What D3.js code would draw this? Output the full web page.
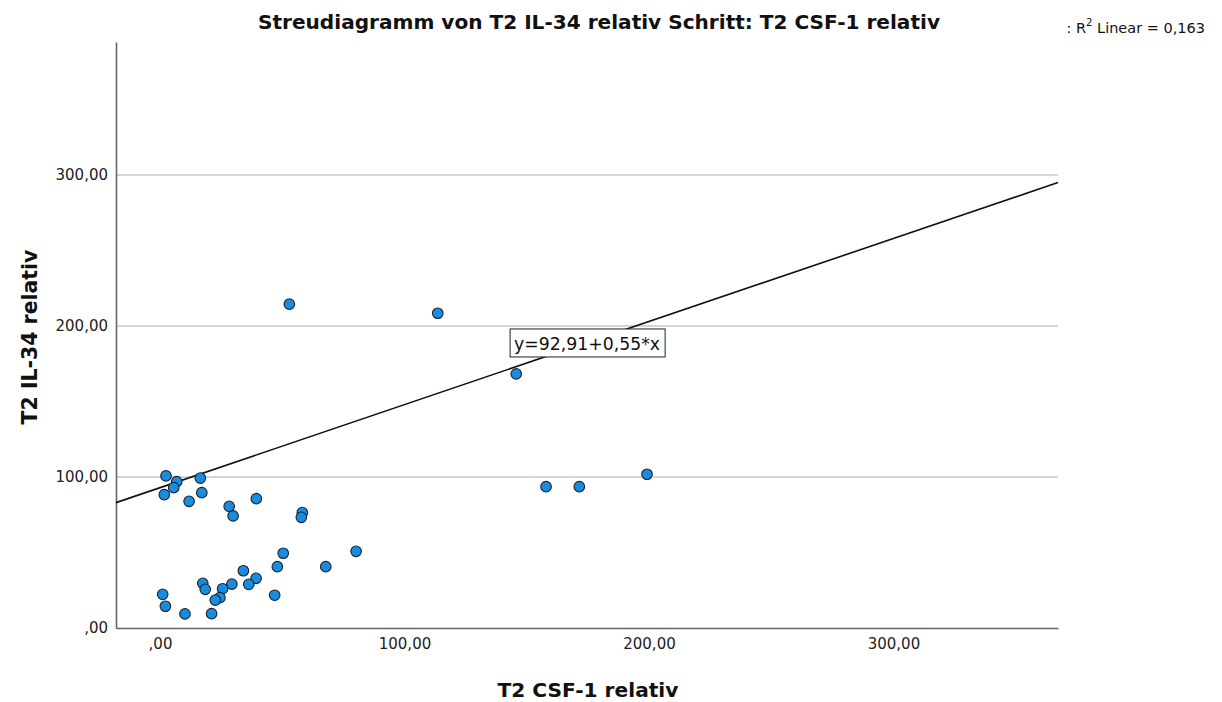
<!DOCTYPE html>
<html>
<head>
<meta charset="utf-8">
<script src="https://cdn.jsdelivr.net/npm/d3@7"></script>
<style>
  html, body { margin: 0; padding: 0; background: #fff; }
  svg { display: block; }
</style>
</head>
<body>
<svg id="chart" width="1222" height="702"></svg>
<script>
// ---- data ----
const csf1 = [2.45, 6.83, 5.6, 16.5, 1.76, 17.1, 11.9, 28.3, 29.9, 39.4, 58.2, 57.8,
  50.4, 80.2, 67.8, 48.0, 34.1, 39.3, 36.3, 29.4, 25.6, 17.5, 18.5, 24.5, 22.6, 46.9,
  1.1, 2.2, 10.2, 21.1, 52.9, 113.6, 145.7, 157.9, 171.5, 199.2];
const il34 = [100.7, 96.9, 92.9, 99.3, 88.3, 89.6, 83.9, 80.6, 74.2, 85.6, 76.4, 73.3,
  49.5, 50.8, 40.6, 40.6, 37.9, 32.9, 28.9, 29.1, 26.0, 29.6, 25.6, 20.1, 18.5, 21.7,
  22.3, 14.4, 9.3, 9.5, 214.4, 208.4, 168.2, 93.6, 93.6, 101.8];
const xTicks = [0, 100, 200, 300];
const xTickLabels = [",00", "100,00", "200,00", "300,00"];
const yTicks = [0, 100, 200, 300];
const yTickLabels = [",00", "100,00", "200,00", "300,00"];
const fitIntercept = 92.91;
const fitSlope = 0.55;
const equationText = "y=92,91+0,55*x";
const r2Value = "0,163";
const titleText = "Streudiagramm von T2 IL-34 relativ Schritt: T2 CSF-1 relativ";
const xLabel = "T2 CSF-1 relativ";
const yLabel = "T2 IL-34 relativ";

(function () {
// ---- layout ----
const svg = d3.select("#chart");
const pLeft = 116, pRight = 1058, pTop = 42, pBottom = 628;
const x = d3.scaleLinear().domain([-18, 367.3]).range([pLeft, pRight]);
const y = d3.scaleLinear().domain([0, 388]).range([pBottom, pTop]);
const font = "'DejaVu Sans', sans-serif";

function fitText(sel, targetWidth) {
  const node = sel.node();
  const w = node.getComputedTextLength();
  const fs = parseFloat(sel.attr("font-size"));
  if (w > 0) sel.attr("font-size", (fs * targetWidth / w).toFixed(2));
}

// gridlines
svg.append("g").selectAll("line").data(yTicks.filter(d => d > 0)).join("line")
  .attr("x1", pLeft).attr("x2", pRight)
  .attr("y1", d => y(d)).attr("y2", d => y(d))
  .attr("stroke", "#c8c8c8").attr("stroke-width", 1.5);

// axes
const xAxis = d3.axisBottom(x).tickValues(xTicks).tickFormat((d, i) => xTickLabels[i]).tickSize(0).tickPadding(10);
const yAxis = d3.axisLeft(y).tickValues(yTicks).tickFormat((d, i) => yTickLabels[i]).tickSize(0).tickPadding(8);

const gx = svg.append("g").attr("transform", `translate(0,${pBottom})`).call(xAxis);
const gy = svg.append("g").attr("transform", `translate(${pLeft},0)`).call(yAxis);
[gx, gy].forEach(g => {
  g.select(".domain").attr("stroke", "#666").attr("stroke-width", 1.6);
  g.selectAll("text").attr("font-family", font).attr("font-size", 15).attr("fill", "#222");
});

// regression line
const dom = x.domain();
svg.append("line")
  .attr("x1", x(dom[0])).attr("y1", y(fitIntercept + fitSlope * dom[0]))
  .attr("x2", x(dom[1])).attr("y2", y(fitIntercept + fitSlope * dom[1]))
  .attr("stroke", "#111").attr("stroke-width", 1.6);

// points
svg.append("g").selectAll("circle").data(csf1.map((v, i) => [v, il34[i]])).join("circle")
  .attr("cx", d => x(d[0])).attr("cy", d => y(d[1])).attr("r", 5.3)
  .attr("fill", "#1a8ce0").attr("stroke", "#17222e").attr("stroke-width", 1.1);

// equation label
const eqG = svg.append("g").attr("transform", `translate(${x(143.2)},${y(198)})`);
const eqRect = eqG.append("rect").attr("fill", "#fff").attr("stroke", "#222").attr("stroke-width", 1);
const eqT = eqG.append("text").attr("x", 4).attr("y", 21).attr("font-family", font)
  .attr("font-size", 17).attr("fill", "#111").text(equationText);
fitText(eqT, 146);
eqRect.attr("x", 0).attr("y", 0).attr("width", 155).attr("height", 28);

// title
const t = svg.append("text").attr("x", 599).attr("y", 29).attr("text-anchor", "middle")
  .attr("font-family", font).attr("font-weight", "bold").attr("font-size", 18)
  .attr("fill", "#111").text(titleText);
fitText(t, 682);

// axis titles
const xl = svg.append("text").attr("x", 588).attr("y", 697).attr("text-anchor", "middle")
  .attr("font-family", font).attr("font-weight", "bold").attr("font-size", 19)
  .attr("fill", "#111").text(xLabel);
fitText(xl, 181);
const yl = svg.append("text").attr("transform", "translate(37,337) rotate(-90)").attr("text-anchor", "middle")
  .attr("font-family", font).attr("font-weight", "bold").attr("font-size", 19)
  .attr("fill", "#111").text(yLabel);
fitText(yl, 175);

// R² label
const r2 = svg.append("text").attr("x", 1205).attr("y", 33).attr("text-anchor", "end")
  .attr("font-family", font).attr("font-size", 14.5).attr("fill", "#111");
r2.append("tspan").text(": R");
r2.append("tspan").attr("font-size", 10).attr("dy", -7).text("2");
r2.append("tspan").attr("dy", 7).text(" Linear = " + r2Value);
})();
</script>
</body>
</html>
